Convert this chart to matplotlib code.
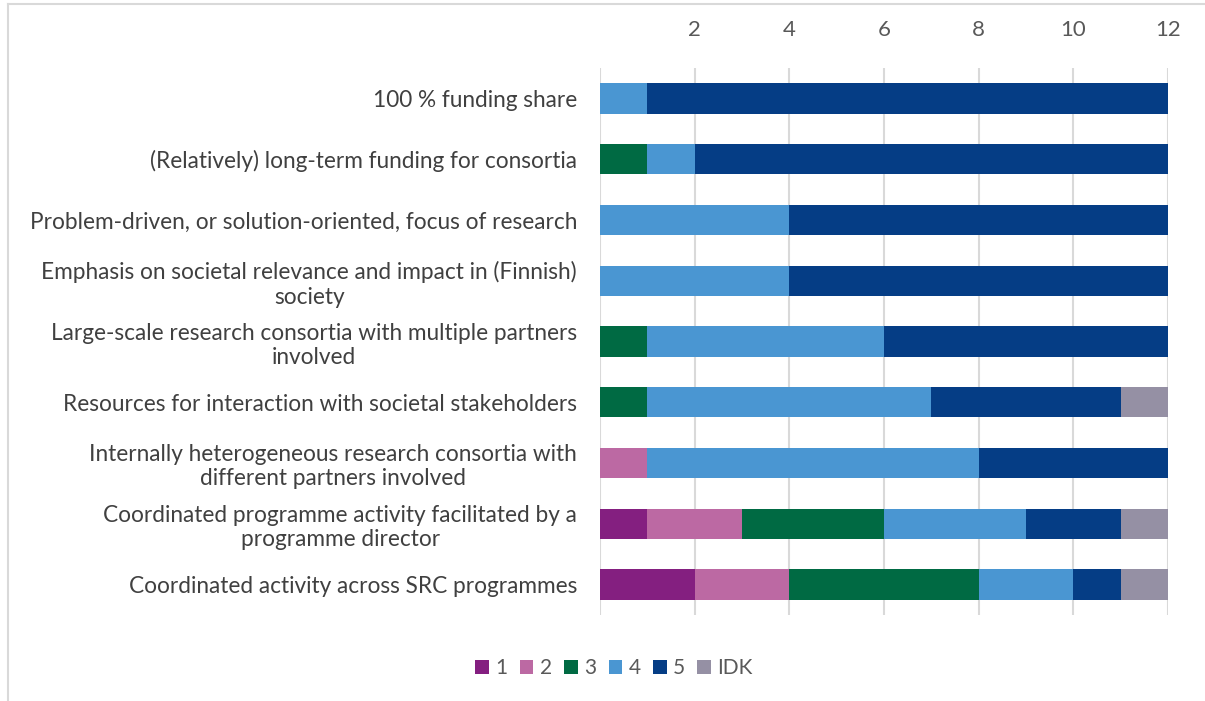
import numpy as np
import matplotlib.pyplot as plt
from matplotlib.lines import Line2D

plt.rcParams['font.family'] = ['Lato', 'DejaVu Sans']

statements = [
    "100 % funding share",
    "(Relatively) long-term funding for consortia",
    "Problem-driven, or solution-oriented, focus of research",
    "Emphasis on societal relevance and impact in (Finnish)\nsociety",
    "Large-scale research consortia with multiple partners\ninvolved",
    "Resources for interaction with societal stakeholders",
    "Internally heterogeneous research consortia with\ndifferent partners involved",
    "Coordinated programme activity facilitated by a\nprogramme director",
    "Coordinated activity across SRC programmes",
]

# answer counts per statement, one list per rating
r1 = [0, 0, 0, 0, 0, 0, 0, 1, 2]
r2 = [0, 0, 0, 0, 0, 0, 1, 2, 2]
r3 = [0, 1, 0, 0, 1, 1, 0, 3, 4]
r4 = [1, 1, 4, 4, 5, 6, 7, 3, 2]
r5 = [11, 10, 8, 8, 6, 4, 4, 2, 1]
idk = [0, 0, 0, 0, 0, 1, 0, 1, 1]

series = [("1", r1), ("2", r2), ("3", r3), ("4", r4), ("5", r5), ("IDK", idk)]
colors = ["#841F80", "#BC69A3", "#006A43", "#4A96D2", "#053D85", "#9590A4"]
xticks = [2, 4, 6, 8, 10, 12]

fig = plt.figure(figsize=(12.05, 7.01), dpi=100)
ax = fig.add_axes([600 / 1205, 1 - 615 / 701, 568 / 1205, 547 / 701])

y = np.arange(len(statements))
left = np.zeros(len(statements))
for (name, vals), col in zip(series, colors):
    ax.barh(y, vals, left=left, height=0.5, color=col, label=name, zorder=3)
    left += np.array(vals)

ax.set_xlim(0, 12)
ax.set_ylim(len(statements) - 0.5, -0.5)
ax.set_xticks(xticks)
ax.set_yticks(y)
ax.set_yticklabels(statements, multialignment="center")
ax.xaxis.tick_top()
ax.tick_params(axis="x", length=0, pad=20, labelsize=16, labelcolor="#595959")
ax.tick_params(axis="y", length=0, pad=16.5, labelsize=16.3, labelcolor="#404040")
ax.grid(axis="x", color="#D9D9D9", linewidth=1.5, zorder=0)
ax.axvline(0, color="#D9D9D9", linewidth=1.5, zorder=0)
for s in ax.spines.values():
    s.set_visible(False)

leg = fig.legend(loc="center", bbox_to_anchor=(614 / 1205, 1 - 668 / 701), ncol=6,
                 frameon=False, fontsize=15, handlelength=0.65, handleheight=0.65,
                 handletextpad=0.3, columnspacing=0.6)
for t in leg.get_texts():
    t.set_color("#595959")

# chart frame, partly cropped
fig.add_artist(Line2D([8 / 1205, 8 / 1205], [0, 1 - 4 / 701],
                      transform=fig.transFigure, color="#D9D9D9", linewidth=1.5))
fig.add_artist(Line2D([8 / 1205, 1], [1 - 4 / 701, 1 - 4 / 701],
                      transform=fig.transFigure, color="#D9D9D9", linewidth=1.5))

fig.savefig("out.png", dpi=100)
